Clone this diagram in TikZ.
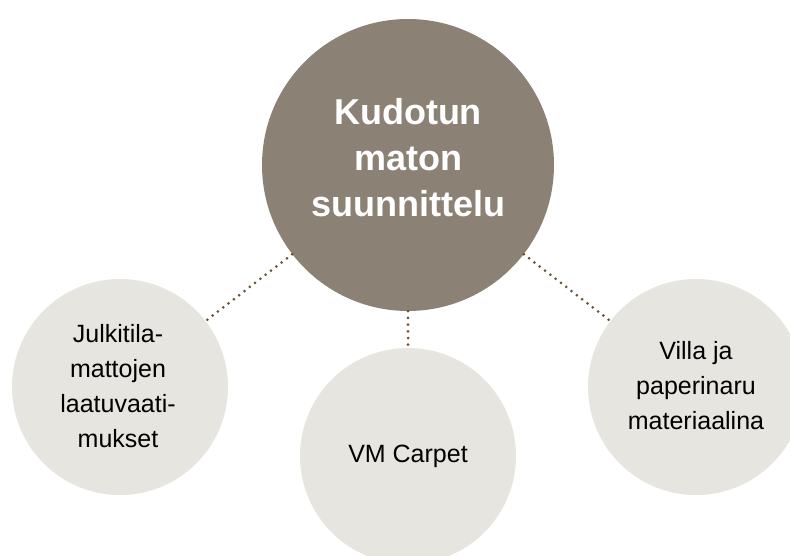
\documentclass[tikz,border=0pt]{standalone}
\usepackage{fontspec}
\setmainfont{Liberation Sans}
\definecolor{mainfill}{HTML}{8C8175}
\definecolor{subfill}{HTML}{E6E5E0}
\definecolor{dotcol}{HTML}{6B5233}
\begin{document}
\begin{tikzpicture}[x=1pt,y=-1pt,
  mainc/.style={circle,fill=mainfill,minimum size=292pt,inner sep=0pt,text=white,align=center,
    font=\fontsize{36}{46}\selectfont\bfseries},
  subc/.style={circle,fill=subfill,minimum size=216pt,inner sep=0pt,text=black,align=center,
    font=\fontsize{25}{35}\selectfont},
  link/.style={draw=dotcol,line width=3pt,line cap=round,dash pattern=on 0pt off 6.7pt}]
\useasboundingbox (0,0) rectangle (790,556);
\node[mainc] (c) at (408,165) {};
\node[font=\fontsize{36}{46}\selectfont\bfseries,text=white,align=center] (ct) at (408,158) {Kudotun\\maton\\suunnittelu};
\node[subc] (l) at (120,387) {};
\node[font=\fontsize{25}{35}\selectfont,align=center] (lt) at (118,386) {Julkitila-\\mattojen\\laatuvaati-\\mukset};
\node[subc] (b) at (408,456) {VM Carpet};
\node[subc] (r) at (696,387) {};
\node[font=\fontsize{25}{35}\selectfont,align=center] (rt) at (696,386) {Villa ja\\paperinaru\\materiaalina};
\draw[link] (c) -- (l);
\draw[link] (c) -- (b);
\draw[link] (c) -- (r);
\end{tikzpicture}
\end{document}
